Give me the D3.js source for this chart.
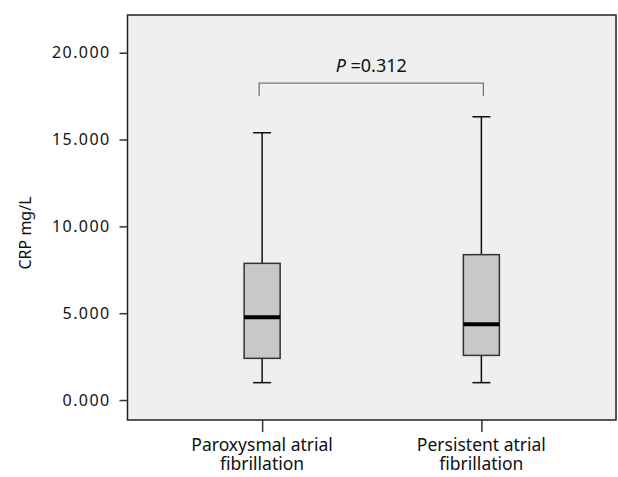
<!DOCTYPE html>
<html>
<head>
<meta charset="utf-8">
<script src="https://cdn.jsdelivr.net/npm/d3@7"></script>
<style>
body{margin:0;background:#fff;}
text{font-family:"Noto Sans",sans-serif;fill:#111;}
</style>
</head>
<body>
<div id="chart"></div>
<script>
var categories = ["Paroxysmal atrial|fibrillation","Persistent atrial|fibrillation"];
var mins    = [1.00, 1.00];
var q1s     = [2.40, 2.57];
var medians = [4.76, 4.36];
var q3s     = [7.87, 8.37];
var maxs    = [15.39, 16.31];
var yTicks  = [0, 5, 10, 15, 20];
var pLabel  = "=0.312";

var W = 618, H = 477;
var plotL = 127.5, plotR = 616, plotT = 15, plotB = 420;

var svg = d3.select("#chart").append("svg").attr("width",W).attr("height",H);

var x = d3.scalePoint().domain(categories).range([plotL,plotR]).padding(0.614);
var y = d3.scaleLinear().domain([-1.15,22.17]).range([plotB,plotT]);

// plot background
svg.append("rect")
	.attr("x",plotL).attr("y",plotT)
	.attr("width",plotR-plotL).attr("height",plotB-plotT)
	.attr("fill","#efefef")
	.attr("stroke","#222").attr("stroke-width",1.5);

// y axis
var yAxis = d3.axisLeft(y).tickValues(yTicks).tickSize(8).tickPadding(9)
	.tickFormat(d3.format(".3f"));
var gy = svg.append("g").attr("transform","translate("+plotL+",0)").call(yAxis);
gy.select(".domain").remove();
gy.selectAll(".tick line").attr("stroke","#333").attr("stroke-width",1.5);
gy.selectAll(".tick text").style("font-size","16px").style("letter-spacing","1.4px")
	.style("font-family","'Noto Sans',sans-serif").attr("fill","#111");

// x axis
var xAxis = d3.axisBottom(x).tickSize(12).tickFormat("");
var gx = svg.append("g").attr("transform","translate(0,"+plotB+")").call(xAxis);
gx.select(".domain").remove();
gx.selectAll(".tick line").attr("stroke","#333").attr("stroke-width",1.5);

categories.forEach(function(c){
	var parts = c.split("|");
	var t = svg.append("text").attr("x",x(c)).attr("y",451)
		.attr("text-anchor","middle").style("font-size","17.5px");
	t.append("tspan").attr("x",x(c)).attr("dy",0).text(parts[0]);
	t.append("tspan").attr("x",x(c)).attr("dy",19).text(parts[1]);
});

// y label
svg.append("text")
	.attr("transform","translate(31,233) rotate(-90)")
	.attr("text-anchor","middle")
	.style("font-size","16px")
	.text("CRP mg/L");

// boxes
var boxW = 36, capW = 18;
var g = svg.selectAll(".box").data(categories).enter().append("g").attr("class","box");

g.append("line")
	.attr("x1",function(d){return x(d);}).attr("x2",function(d){return x(d);})
	.attr("y1",function(d,i){return y(maxs[i]);}).attr("y2",function(d,i){return y(mins[i]);})
	.attr("stroke","#111").attr("stroke-width",1.5);
g.append("line")
	.attr("x1",function(d){return x(d)-capW/2;}).attr("x2",function(d){return x(d)+capW/2;})
	.attr("y1",function(d,i){return y(maxs[i]);}).attr("y2",function(d,i){return y(maxs[i]);})
	.attr("stroke","#111").attr("stroke-width",1.5);
g.append("line")
	.attr("x1",function(d){return x(d)-capW/2;}).attr("x2",function(d){return x(d)+capW/2;})
	.attr("y1",function(d,i){return y(mins[i]);}).attr("y2",function(d,i){return y(mins[i]);})
	.attr("stroke","#111").attr("stroke-width",1.5);
g.append("rect")
	.attr("x",function(d){return x(d)-boxW/2;})
	.attr("y",function(d,i){return y(q3s[i]);})
	.attr("width",boxW)
	.attr("height",function(d,i){return y(q1s[i])-y(q3s[i]);})
	.attr("fill","#c8c8c8").attr("stroke","#333").attr("stroke-width",1.5);
g.append("line")
	.attr("x1",function(d){return x(d)-boxW/2;}).attr("x2",function(d){return x(d)+boxW/2;})
	.attr("y1",function(d,i){return y(medians[i]);}).attr("y2",function(d,i){return y(medians[i]);})
	.attr("stroke","#000").attr("stroke-width",4);

// significance bracket
var by = y(18.25), bd = y(17.5);
var x0 = x(categories[0])-3, x1 = x(categories[1])+2;
svg.append("path")
	.attr("d","M"+x0+","+bd+"V"+by+"H"+x1+"V"+bd)
	.attr("fill","none").attr("stroke","#777").attr("stroke-width",1.3);
var pt = svg.append("text").attr("x",(x0+x1)/2).attr("y",72)
	.attr("text-anchor","middle").style("font-size","18px");
pt.append("tspan").style("font-style","italic").text("P ");
pt.append("tspan").text(pLabel);
</script>
</body>
</html>
